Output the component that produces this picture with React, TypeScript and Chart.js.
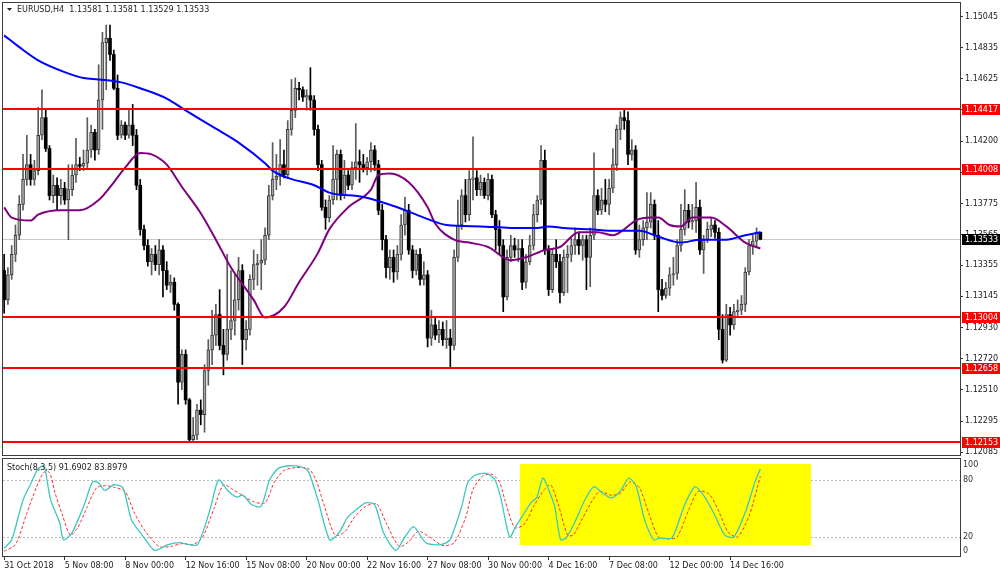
import React, { useEffect, useRef } from 'react';
import { Chart, registerables } from 'chart.js';
Chart.register(...registerables);

// ---------- DATA ----------
const OPEN = [
  1.1332,1.1312,1.1329,1.1343,1.1356,1.1377,1.1394,1.1404,1.1394,1.1400,
  1.1424,1.1436,1.1415,1.1383,1.1390,1.1383,1.1388,1.1380,1.1387,1.1397,
  1.1404,1.1403,1.1405,1.1414,1.1426,1.1414,1.1448,1.1487,1.1490,1.1479,
  1.1456,1.1424,1.1431,1.1424,1.1431,1.1424,1.1390,1.1360,1.1349,1.1338,
  1.1343,1.1336,1.1346,1.1332,1.1322,1.1324,1.1309,1.1256,1.1275,1.1244,
  1.1217,1.1220,1.1237,1.1234,1.1264,1.1278,1.1288,1.1302,1.1281,1.1275,
  1.1292,1.1298,1.1312,1.1332,1.1285,1.1292,1.1326,1.1336,1.1337,1.1339,
  1.1356,1.1383,1.1394,1.1396,1.1404,1.1397,1.1428,1.1441,1.1456,1.1455,
  1.1450,1.1451,1.1448,1.1428,1.1404,1.1375,1.1368,1.1380,1.1394,1.1411,
  1.1383,1.1397,1.1390,1.1402,1.1406,1.1404,1.1402,1.1406,1.1414,1.1404,
  1.1373,1.1353,1.1334,1.1341,1.1331,1.1343,1.1363,1.1373,1.1346,1.1332,
  1.1343,1.1326,1.1329,1.1286,1.1295,1.1288,1.1292,1.1285,1.1286,1.1281,
  1.1341,1.1363,1.1383,1.1370,1.1394,1.1395,1.1387,1.1392,1.1383,1.1394,
  1.1370,1.1360,1.1349,1.1314,1.1341,1.1349,1.1346,1.1347,1.1324,1.1338,
  1.1349,1.1370,1.1380,1.1407,1.1346,1.1319,1.1343,1.1338,1.1317,1.1341,
  1.1343,1.1349,1.1353,1.1349,1.1353,1.1341,1.1356,1.1383,1.1373,1.1380,
  1.1377,1.1388,1.1404,1.1428,1.1436,1.1434,1.1411,1.1414,1.1346,1.1353,
  1.1361,1.1365,1.1377,1.1356,1.1319,1.1315,1.1320,1.1329,1.1330,1.1349,
  1.1360,1.1373,1.1365,1.1366,1.1375,1.1346,1.1353,1.1360,1.1363,1.1358,
  1.1292,1.1271,1.1302,1.1295,1.1304,1.1305,1.1309,1.1331,1.1349,1.1352,
  1.13581,
];
const HIGH = [
  1.1343,1.1334,1.1349,1.1363,1.1383,1.1411,1.1424,1.1411,1.1407,1.1443,
  1.1455,1.1441,1.1417,1.1397,1.1395,1.1394,1.1392,1.1404,1.1404,1.1422,
  1.1409,1.1414,1.1436,1.1431,1.1428,1.1472,1.1494,1.1499,1.1499,1.1482,
  1.1465,1.1434,1.1433,1.1441,1.1445,1.1428,1.1394,1.1363,1.1353,1.1347,
  1.1349,1.1353,1.1349,1.1338,1.1329,1.1327,1.1310,1.1278,1.1278,1.1245,
  1.1232,1.1241,1.1244,1.1268,1.1285,1.1305,1.1309,1.1319,1.1292,1.1343,
  1.1332,1.1329,1.1341,1.1336,1.1298,1.1329,1.1346,1.1343,1.1353,1.1361,
  1.1390,1.1419,1.1411,1.1421,1.1414,1.1434,1.1462,1.1463,1.1460,1.1457,
  1.1455,1.1470,1.1451,1.1431,1.1407,1.1380,1.1383,1.1417,1.1414,1.1414,
  1.1407,1.1400,1.1406,1.1432,1.1414,1.1411,1.1409,1.1419,1.1417,1.1407,
  1.1377,1.1356,1.1346,1.1346,1.1349,1.1370,1.1382,1.1377,1.1349,1.1346,
  1.1347,1.1338,1.1332,1.1305,1.1300,1.1298,1.1297,1.1298,1.1292,1.1346,
  1.1380,1.1387,1.1394,1.1400,1.1423,1.1400,1.1397,1.1395,1.1398,1.1397,
  1.1373,1.1366,1.1353,1.1346,1.1356,1.1354,1.1353,1.1353,1.1343,1.1356,
  1.1377,1.1383,1.1417,1.1414,1.1349,1.1347,1.1353,1.1343,1.1346,1.1349,
  1.1354,1.1361,1.1358,1.1356,1.1356,1.1361,1.1412,1.1387,1.1388,1.1394,
  1.1394,1.1415,1.1431,1.1440,1.1441,1.1440,1.1421,1.1417,1.1363,1.1366,
  1.1385,1.1385,1.1380,1.1366,1.1326,1.1324,1.1334,1.1341,1.1353,1.1377,
  1.1387,1.1377,1.1377,1.1392,1.1380,1.1356,1.1365,1.1368,1.1366,1.1361,
  1.1302,1.1309,1.1307,1.1309,1.1312,1.1315,1.1334,1.1353,1.1356,1.1361,
  1.13581,
];
const LOW = [
  1.1303,1.1309,1.1326,1.1338,1.1353,1.1373,1.1390,1.1390,1.1390,1.1397,
  1.1421,1.1413,1.1380,1.1378,1.1373,1.1377,1.1377,1.1353,1.1383,1.1392,
  1.1400,1.1400,1.1402,1.1409,1.1407,1.1411,1.1428,1.1455,1.1475,1.1455,
  1.1421,1.1422,1.1421,1.1422,1.1417,1.1387,1.1356,1.1346,1.1335,1.1329,
  1.1332,1.1329,1.1314,1.1319,1.1317,1.1305,1.1241,1.1251,1.1241,1.1215,
  1.1215,1.1217,1.1227,1.1222,1.1254,1.1268,1.1281,1.1278,1.1261,1.1271,
  1.1285,1.1288,1.1305,1.1268,1.1278,1.1288,1.1319,1.1322,1.1319,1.1336,
  1.1353,1.1380,1.1387,1.1390,1.1395,1.1395,1.1424,1.1436,1.1448,1.1447,
  1.1441,1.1441,1.1424,1.1400,1.1373,1.1360,1.1365,1.1377,1.1380,1.1380,
  1.1381,1.1387,1.1387,1.1394,1.1392,1.1399,1.1397,1.1399,1.1400,1.1370,
  1.1346,1.1327,1.1326,1.1324,1.1326,1.1339,1.1356,1.1343,1.1327,1.1329,
  1.1322,1.1322,1.1280,1.1281,1.1285,1.1283,1.1281,1.1279,1.1266,1.1278,
  1.1338,1.1360,1.1365,1.1366,1.1380,1.1383,1.1383,1.1381,1.1380,1.1368,
  1.1346,1.1343,1.1304,1.1312,1.1338,1.1341,1.1338,1.1319,1.1320,1.1336,
  1.1346,1.1365,1.1377,1.1343,1.1315,1.1317,1.1334,1.1310,1.1315,1.1317,
  1.1338,1.1343,1.1343,1.1339,1.1319,1.1321,1.1353,1.1370,1.1370,1.1372,
  1.1370,1.1385,1.1400,1.1421,1.1428,1.1404,1.1407,1.1343,1.1341,1.1349,
  1.1353,1.1361,1.1353,1.1304,1.1312,1.1313,1.1315,1.1322,1.1326,1.1345,
  1.1356,1.1361,1.1360,1.1358,1.1343,1.1330,1.1351,1.1355,1.1354,1.1285,
  1.1269,1.1270,1.1288,1.1292,1.1300,1.1302,1.1304,1.1329,1.1343,1.1348,
  1.13529,
];
const CLOSE = [
  1.1312,1.1329,1.1343,1.1356,1.1377,1.1394,1.1404,1.1394,1.1400,1.1424,
  1.1436,1.1415,1.1383,1.1390,1.1383,1.1388,1.1380,1.1387,1.1397,1.1404,
  1.1403,1.1405,1.1414,1.1426,1.1414,1.1448,1.1487,1.1490,1.1479,1.1456,
  1.1424,1.1431,1.1424,1.1431,1.1424,1.1390,1.1360,1.1349,1.1338,1.1343,
  1.1336,1.1346,1.1332,1.1322,1.1324,1.1309,1.1256,1.1275,1.1244,1.1217,
  1.1220,1.1237,1.1234,1.1264,1.1278,1.1288,1.1302,1.1281,1.1275,1.1292,
  1.1298,1.1312,1.1332,1.1285,1.1292,1.1326,1.1336,1.1337,1.1339,1.1356,
  1.1383,1.1394,1.1396,1.1404,1.1397,1.1428,1.1441,1.1456,1.1455,1.1450,
  1.1451,1.1448,1.1428,1.1404,1.1375,1.1368,1.1380,1.1394,1.1411,1.1383,
  1.1397,1.1390,1.1402,1.1406,1.1404,1.1402,1.1406,1.1414,1.1404,1.1373,
  1.1353,1.1334,1.1341,1.1331,1.1343,1.1363,1.1373,1.1346,1.1332,1.1343,
  1.1326,1.1329,1.1286,1.1295,1.1288,1.1292,1.1285,1.1286,1.1281,1.1341,
  1.1363,1.1383,1.1370,1.1394,1.1395,1.1387,1.1392,1.1383,1.1394,1.1370,
  1.1360,1.1349,1.1314,1.1341,1.1349,1.1346,1.1347,1.1324,1.1338,1.1349,
  1.1370,1.1380,1.1407,1.1346,1.1319,1.1343,1.1338,1.1317,1.1341,1.1343,
  1.1349,1.1353,1.1349,1.1353,1.1341,1.1356,1.1383,1.1373,1.1380,1.1377,
  1.1388,1.1404,1.1428,1.1436,1.1434,1.1411,1.1414,1.1346,1.1353,1.1361,
  1.1365,1.1377,1.1356,1.1319,1.1315,1.1320,1.1329,1.1330,1.1349,1.1360,
  1.1373,1.1365,1.1366,1.1375,1.1346,1.1353,1.1360,1.1363,1.1358,1.1292,
  1.1271,1.1302,1.1295,1.1304,1.1305,1.1309,1.1331,1.1349,1.1352,1.1358,
  1.13533,
];

const MA_BLUE_BARS = [0,4,9,16,21,25,31,36,43,48,55,62,69,71,75,82,86,95,104,111,117,126,134,141,144,148,155,162,168,173,179,184,191,196,200];
const MA_BLUE = [1.1492,1.1484,1.1475,1.1467,1.1463,1.1462,1.1460,1.1456,1.1449,1.1441,1.1430,1.1419,1.1405,1.1400,1.1395,1.1390,1.1385,1.1382,1.1375,1.1368,1.1363,1.1362,1.1361,1.1361,1.1362,1.1361,1.1360,1.1359,1.1359,1.1355,1.1351,1.1353,1.1353,1.1356,1.1358];

const MA_PURPLE_BARS = [0,2,7,9,15,20,25,29,32,36,39,43,47,52,56,60,66,69,74,78,83,86,91,97,99,102,107,112,114,119,123,128,134,138,143,147,152,157,161,164,167,171,173,176,179,182,187,191,196,200];
const MA_PURPLE = [1.1375,1.1368,1.1366,1.1370,1.1373,1.1373,1.1380,1.1392,1.1402,1.1412,1.1411,1.1404,1.1389,1.1371,1.1353,1.1334,1.1312,1.1300,1.1307,1.1324,1.1344,1.1360,1.1375,1.1387,1.1397,1.1398,1.1392,1.1375,1.1364,1.1353,1.1351,1.1348,1.1339,1.1341,1.1346,1.1348,1.1358,1.1358,1.1356,1.1360,1.1366,1.1368,1.1368,1.1363,1.1362,1.1368,1.1368,1.1362,1.1351,1.1347];

const STOCH_K_BARS = [0,2,5,7.5,9,10.5,11,12.3,14.7,15.7,17.9,21,23.4,25,26.6,29,31.4,33.7,36.9,39.8,43.3,46.4,48.8,51.2,54.4,56.7,59.1,61.5,63.1,65.5,67.9,70.2,72.4,75.5,78.2,80.3,81.3,83,86.1,88.5,90.9,94.1,95.6,98,100.4,103.6,106,108.3,111.5,115.5,117.9,121,122.6,124.5,127.6,129.8,131.3,133.7,135.3,136.9,139.3,140.9,142.5,144.1,145.6,147.2,148.8,151.2,153.6,156,158.3,160.7,163.1,165.2,167.1,169.4,171.8,173.4,176.6,179.8,182.7,185.3,187.7,190.6,193,196.2,198.5,200];
const STOCH_K = [8,17,59,80,92,95,88,59,35,17,24,52,78,77,69,75,72,38,20,6,12,14,12,12,48,80,69,62,64,54,52,80,92,95,94,90,80,59,17,24,41,52,56,54,24,6,20,31,14,12,17,52,77,85,87,80,62,20,31,41,56,62,82,69,52,17,20,38,59,73,66,61,69,82,74,38,17,19,19,52,73,62,45,22,20,48,77,91.69];

const STOCH_D_BARS = [0,3,6,8.5,10.5,12,13.5,15.5,17.5,19.5,22,24.5,27,29.5,32,34.5,37.5,41,44,47,50,52.5,55.5,58,60.5,63,66,69,71.5,74,77,80.5,82.5,84.5,87.5,90,92.5,95.5,98.5,101,104.5,107,109.5,112.5,116,119,122,124,126.5,129,131,132.5,135,137.5,140,142.5,144.5,146.5,149,150.5,153,155.5,157.5,160.5,163,165.5,168,170.5,173,175.5,178,181,183.5,186.5,189,191.5,194,197,200];
const STOCH_D = [5,12,45,72,88,88,66,42,22,30,52,72,74,72,68,45,25,10,10,13,12,20,50,75,70,64,57,56,78,90,93,92,80,55,22,25,40,52,55,35,10,15,26,20,11,14,40,70,84,86,78,58,30,33,52,68,75,55,22,22,40,58,68,64,66,78,72,45,20,18,20,48,68,65,47,25,20,42,83.9];

const LEVELS = [1.14417, 1.14008, 1.13004, 1.12658, 1.12153];
const LAST_PRICE = 1.13533;
const PRICE_TICKS = [1.15045,1.14835,1.14625,1.14415,1.142,1.1399,1.13775,1.13565,1.13355,1.13145,1.1293,1.1272,1.1251,1.12295,1.12085];
const STOCH_TICKS = [100, 80, 20, 0];
const STOCH_LEVELS = [20, 80];
const X_TICK_BARS = [0,16,32,48,64,80,96,112,128,144,160,176,192];
const X_LABELS = ['31 Oct 2018','5 Nov 08:00','8 Nov 00:00','12 Nov 16:00','15 Nov 08:00','20 Nov 00:00','22 Nov 16:00','27 Nov 08:00','30 Nov 00:00','4 Dec 16:00','7 Dec 08:00','12 Dec 00:00','14 Dec 16:00'];
const HIGHLIGHT_BARS = [136.4, 213.4];
const HIGHLIGHT_RANGE = [11.6, 96.8];
const TITLE = 'EURUSD,H4  1.13581 1.13581 1.13529 1.13533';
const STOCH_TITLE = 'Stoch(8,3,5) 91.6902 83.8979';

const X_MIN = -0.3;
const X_MAX = 252.8;
const P_MIN = 1.12065;
const P_MAX = 1.1514;

const FONT = '8px "DejaVu Sans"';
const FRAME = '#3c3c3c';

export default function App() {
  const mainRef = useRef<HTMLCanvasElement>(null);
  const stochRef = useRef<HTMLCanvasElement>(null);

  useEffect(() => {
    Chart.defaults.font.family = '"DejaVu Sans"';
    Chart.defaults.font.size = 8;
    const bull = CLOSE.map((c, i) => c >= OPEN[i]);

    const mainDecor = {
      id: 'mainDecor',
      beforeDatasetsDraw(chart: any) {
        const { ctx, chartArea: a, scales } = chart;
        const py = Math.round(scales.y.getPixelForValue(LAST_PRICE)) + 0.5;
        ctx.save();
        ctx.strokeStyle = '#c8c8c8';
        ctx.lineWidth = 1;
        ctx.beginPath();
        ctx.moveTo(a.left, py);
        ctx.lineTo(a.right, py);
        ctx.stroke();
        ctx.restore();
      },
      afterDatasetsDraw(chart: any) {
        const { ctx, chartArea: a, scales } = chart;
        ctx.save();
        ctx.strokeStyle = '#ff0000';
        ctx.lineWidth = 2;
        LEVELS.forEach((lv) => {
          const py = Math.round(scales.y.getPixelForValue(lv));
          ctx.beginPath();
          ctx.moveTo(a.left, py);
          ctx.lineTo(a.right, py);
          ctx.stroke();
        });
        ctx.restore();
      },
      afterDraw(chart: any) {
        const { ctx, chartArea: a, scales } = chart;
        ctx.save();
        ctx.strokeStyle = FRAME;
        ctx.lineWidth = 1;
        ctx.strokeRect(2.5, 2.5, a.right - 2, a.bottom - 2);
        ctx.font = FONT;
        ctx.textBaseline = 'middle';
        ctx.textAlign = 'left';
        const badge = (v: number, bg: string) => {
          const py = Math.round(scales.y.getPixelForValue(v));
          ctx.fillStyle = bg;
          ctx.fillRect(a.right + 2, py - 5, 1000 - a.right - 2, 11);
          ctx.fillStyle = '#ffffff';
          ctx.fillText(v.toFixed(5), a.right + 5, py + 0.5);
        };
        LEVELS.forEach((lv) => badge(lv, '#ff0000'));
        badge(LAST_PRICE, '#000000');
        ctx.fillStyle = '#222';
        ctx.beginPath();
        ctx.moveTo(7, 8);
        ctx.lineTo(12, 8);
        ctx.lineTo(9.5, 11);
        ctx.closePath();
        ctx.fill();
        ctx.fillText(TITLE, 17, 10);
        ctx.restore();
      },
    };

    const stochDecor = {
      id: 'stochDecor',
      beforeDatasetsDraw(chart: any) {
        const { ctx, chartArea: a, scales } = chart;
        ctx.save();
        ctx.strokeStyle = '#bdbdbd';
        ctx.lineWidth = 1;
        ctx.setLineDash([2, 2]);
        STOCH_LEVELS.forEach((v) => {
          const py = Math.round(scales.y.getPixelForValue(v)) + 0.5;
          ctx.beginPath();
          ctx.moveTo(a.left, py);
          ctx.lineTo(a.right, py);
          ctx.stroke();
        });
        ctx.setLineDash([]);
        const x1 = scales.x.getPixelForValue(HIGHLIGHT_BARS[0]);
        const x2 = scales.x.getPixelForValue(HIGHLIGHT_BARS[1]);
        const y1 = scales.y.getPixelForValue(HIGHLIGHT_RANGE[1]);
        const y2 = scales.y.getPixelForValue(HIGHLIGHT_RANGE[0]);
        ctx.fillStyle = '#ffff00';
        ctx.fillRect(x1, y1, x2 - x1, y2 - y1);
        ctx.restore();
      },
      afterDraw(chart: any) {
        const { ctx, chartArea: a, scales } = chart;
        ctx.save();
        ctx.strokeStyle = FRAME;
        ctx.lineWidth = 1;
        ctx.strokeRect(2.5, 1.5, a.right - 2, a.bottom - 1);
        ctx.font = FONT;
        ctx.textBaseline = 'middle';
        ctx.textAlign = 'left';
        ctx.fillStyle = '#333';
        STOCH_TICKS.forEach((v) => {
          let py = scales.y.getPixelForValue(v);
          py = Math.min(Math.max(py, a.top + 4), a.bottom - 5);
          ctx.fillText(String(v), a.right + 3, py);
        });
        ctx.fillStyle = '#222';
        ctx.fillText(STOCH_TITLE, 7, a.top + 7);
        ctx.restore();
      },
    };

    const c1 = new Chart(mainRef.current as HTMLCanvasElement, {
      type: 'bar',
      data: {
        datasets: [
          {
            type: 'line',
            data: MA_BLUE_BARS.map((b, i) => ({ x: b, y: MA_BLUE[i] })),
            borderColor: '#0000ff',
            borderWidth: 2,
            pointRadius: 0,
            cubicInterpolationMode: 'monotone',
            order: 1,
          } as any,
          {
            type: 'line',
            data: MA_PURPLE_BARS.map((b, i) => ({ x: b, y: MA_PURPLE[i] })),
            borderColor: '#800080',
            borderWidth: 2,
            pointRadius: 0,
            cubicInterpolationMode: 'monotone',
            order: 2,
          } as any,
          {
            type: 'bar',
            data: OPEN.map((o, i) => ({ x: i, y: [o, CLOSE[i]] })),
            backgroundColor: bull.map((b) => (b ? '#a4a4a4' : '#000000')),
            borderColor: bull.map((b) => (b ? '#3a3a3a' : '#000000')),
            borderWidth: bull.map((b) => (b ? 1 : 0)),
            borderSkipped: false,
            barThickness: 3,
            minBarLength: 1,
            grouped: false,
            order: 3,
          } as any,
          {
            type: 'bar',
            data: OPEN.map((_, i) => ({ x: i, y: [LOW[i], HIGH[i]] })),
            backgroundColor: bull.map((b) => (b ? '#5a5a5a' : '#000000')),
            barThickness: 1,
            grouped: false,
            order: 4,
          } as any,
        ],
      },
      options: {
        responsive: false,
        animation: false,
        devicePixelRatio: 1,
        events: [],
        layout: { padding: { left: 3, top: 3, right: 0, bottom: 2 } },
        plugins: { legend: { display: false }, tooltip: { enabled: false } },
        scales: {
          x: { type: 'linear', display: false, min: X_MIN, max: X_MAX, offset: false },
          y: {
            type: 'linear',
            position: 'right',
            min: P_MIN,
            max: P_MAX,
            beginAtZero: false,
            border: { display: false },
            grid: { drawOnChartArea: false, drawTicks: true, tickLength: 3, color: '#333' },
            ticks: {
              color: '#222',
              font: { family: '"DejaVu Sans"', size: 8 },
              padding: 2,
              callback: (v: any) => Number(v).toFixed(5),
            },
            afterBuildTicks: (s: any) => {
              s.ticks = PRICE_TICKS.map((v) => ({ value: v }));
            },
            afterFit: (s: any) => {
              s.width = 40;
              s.paddingTop = 0;
              s.paddingBottom = 0;
            },
          },
        },
      } as any,
      plugins: [mainDecor],
    });

    const c2 = new Chart(stochRef.current as HTMLCanvasElement, {
      type: 'line',
      data: {
        datasets: [
          {
            data: STOCH_K_BARS.map((b, i) => ({ x: b, y: STOCH_K[i] })),
            borderColor: '#3cc8bf',
            borderWidth: 1.3,
            pointRadius: 0,
            tension: 0.25,
          },
          {
            data: STOCH_D_BARS.map((b, i) => ({ x: b, y: STOCH_D[i] })),
            borderColor: '#ff2a2a',
            borderWidth: 1,
            borderDash: [3, 2],
            pointRadius: 0,
            tension: 0.25,
          },
        ],
      },
      options: {
        responsive: false,
        animation: false,
        devicePixelRatio: 1,
        events: [],
        layout: { padding: { left: 3, top: 4, right: 0, bottom: 0 } },
        plugins: { legend: { display: false }, tooltip: { enabled: false } },
        scales: {
          x: {
            type: 'linear',
            min: X_MIN,
            max: X_MAX,
            offset: false,
            border: { display: false },
            grid: { drawOnChartArea: false, drawTicks: true, tickLength: 4, color: '#333' },
            ticks: {
              autoSkip: false,
              maxRotation: 0,
              align: 'start',
              padding: 1,
              color: '#222',
              font: { family: '"DejaVu Sans"', size: 8 },
              callback: (_v: any, idx: number) => X_LABELS[idx],
            },
            afterBuildTicks: (s: any) => {
              s.ticks = X_TICK_BARS.map((v) => ({ value: v }));
            },
            afterFit: (s: any) => {
              s.height = 21;
              s.paddingLeft = 0;
              s.paddingRight = 0;
            },
          },
          y: {
            type: 'linear',
            position: 'right',
            min: 0,
            max: 100,
            border: { display: false },
            grid: { display: false },
            ticks: { display: false },
            afterFit: (s: any) => {
              s.width = 40;
              s.paddingTop = 0;
              s.paddingBottom = 0;
            },
          },
        },
      } as any,
      plugins: [stochDecor],
    });

    return () => {
      c1.destroy();
      c2.destroy();
    };
  }, []);

  return (
    <div style={{ position: 'fixed', left: 0, top: 0, width: 1000, height: 577, background: '#ffffff', overflow: 'hidden' }}>
      <canvas ref={mainRef} width={1000} height={457} style={{ position: 'absolute', left: 0, top: 0, width: 1000, height: 457 }} />
      <canvas ref={stochRef} width={1000} height={120} style={{ position: 'absolute', left: 0, top: 457, width: 1000, height: 120 }} />
    </div>
  );
}
